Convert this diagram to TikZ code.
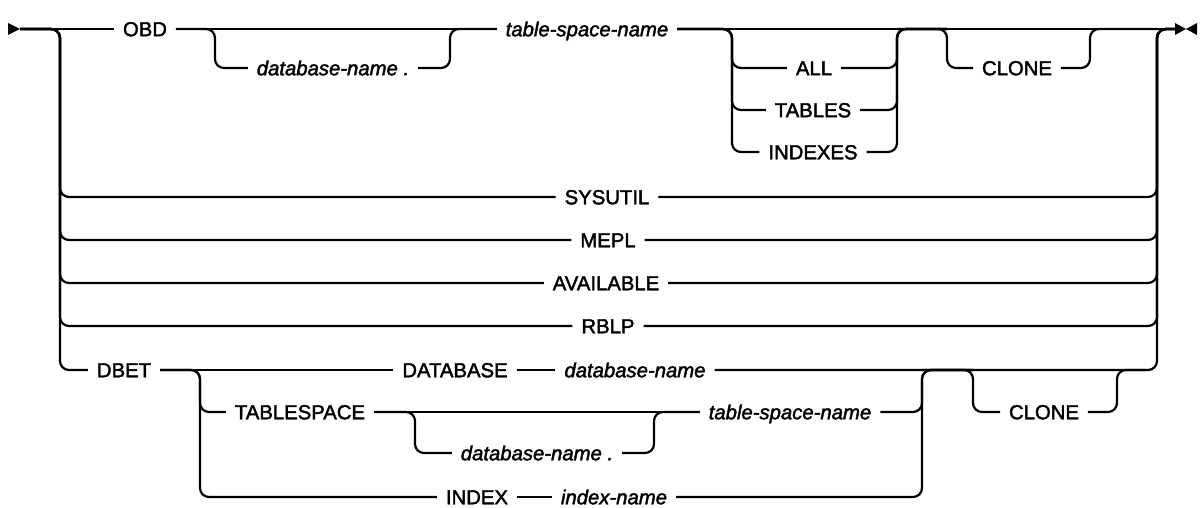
\documentclass[tikz,border=0pt]{standalone}
\usepackage{fontspec}
\setmainfont{Liberation Sans}[FakeBold=2]
\begin{document}
\begin{tikzpicture}[x=1pt,y=-1pt,line width=2.2pt,
  rc/.style={rounded corners=9pt},
  kw/.style={font=\fontsize{20.3}{24}\selectfont, inner xsep=9pt, inner ysep=0pt, outer sep=0pt, text height=14.5pt, text depth=0pt},
  var/.style={kw, font=\fontsize{20.3}{24}\selectfont\itshape}]
\useasboundingbox (0,0) rectangle (1201,508);

% text nodes
\node[kw] (obd) at (145,29) {OBD};
\node[var] (dbn1) at (333,68) {database-name .};
\node[var] (tsn1) at (587,29) {table-space-name};
\node[kw] (all) at (814,68) {ALL};
\node[kw] (tables) at (813,110) {TABLES};
\node[kw] (indexes) at (813,152) {INDEXES};
\node[kw] (clone1) at (1017,68) {CLONE};
\node[kw] (sysutil) at (607,197) {SYSUTIL};
\node[kw] (mepl) at (608,240) {MEPL};
\node[kw] (avail) at (606,283) {AVAILABLE};
\node[kw] (rblp) at (608,326) {RBLP};
\node[kw] (dbet) at (124,370) {DBET};
\node[kw] (database) at (455,370) {DATABASE};
\node[var] (dbn3) at (635,370) {database-name};
\node[kw] (tablespace) at (300,412) {TABLESPACE};
\node[var] (dbn2) at (537,453) {database-name .};
\node[var] (tsn2) at (790,412) {table-space-name};
\node[kw] (index) at (477,497) {INDEX};
\node[var] (idxn) at (614,497) {index-name};
\node[kw] (clone2) at (1044,412) {CLONE};

% junction coordinates
\coordinate (start) at (20,29);
\coordinate (endc) at (1175,29);
\coordinate (L0) at (60,29);
\coordinate (A0) at (215,29);
\coordinate (A1) at (450,29);
\coordinate (B0) at (732,29);
\coordinate (B1) at (897,29);
\coordinate (C0) at (947,29);
\coordinate (C1) at (1090,29);
\coordinate (R0) at (1157,29);
\coordinate (D0) at (200,370);
\coordinate (E0) at (415,412);
\coordinate (E1) at (654,412);
\coordinate (F0) at (922,370);
\coordinate (G0) at (973,370);
\coordinate (G1) at (1117,370);
\coordinate (R8) at (1145,370);

% start and end marks
\fill (8,23) -- (start) -- (8,35) -- cycle;
\fill (1175,23) -- (1186,29) -- (1175,35) -- cycle;
\fill (1197,23) -- (1186,29) -- (1197,35) -- cycle;

% main line
\draw (start) -- (obd);
\draw (obd) -- (tsn1);
\draw (tsn1) -- (endc);

% optional database-name .
\draw[rc] (obd.east) -- (A0) |- (dbn1.west);
\draw[rc] (dbn1.east) -| (A1) -- (tsn1.west);

% ALL / TABLES / INDEXES
\draw[rc] (tsn1.east) -- (B0) |- (all.west);
\draw[rc] (tsn1.east) -- (B0) |- (tables.west);
\draw[rc] (tsn1.east) -- (B0) |- (indexes.west);
\draw[rc] (all.east) -| (B1) -- (C0);
\draw[rc] (tables.east) -| (B1) -- (C0);
\draw[rc] (indexes.east) -| (B1) -- (C0);

% CLONE (top)
\draw[rc] (B1) -- (C0) |- (clone1.west);
\draw[rc] (clone1.east) -| (C1) -- (R0);

% left main branch
\draw[rc] (start) -- (L0) |- (sysutil.west);
\draw[rc] (start) -- (L0) |- (mepl.west);
\draw[rc] (start) -- (L0) |- (avail.west);
\draw[rc] (start) -- (L0) |- (rblp.west);
\draw[rc] (start) -- (L0) |- (dbet.west);

% right main merge
\draw[rc] (sysutil.east) -| (R0) -- (endc);
\draw[rc] (mepl.east) -| (R0) -- (endc);
\draw[rc] (avail.east) -| (R0) -- (endc);
\draw[rc] (rblp.east) -| (R0) -- (endc);
\draw[rc] (dbn3.east) -| (R0) -- (endc);

% DBET group
\draw (dbet) -- (database);
\draw (database) -- (dbn3);
\draw[rc] (dbet.east) -- (D0) |- (tablespace.west);
\draw[rc] (dbet.east) -- (D0) |- (index.west);
\draw (tablespace) -- (tsn2);
\draw[rc] (tablespace.east) -- (E0) |- (dbn2.west);
\draw[rc] (dbn2.east) -| (E1) -- (tsn2.west);
\draw[rc] (tsn2.east) -| (F0) -- (G0);
\draw (index) -- (idxn);
\draw[rc] (idxn.east) -| (F0) -- (G0);

% CLONE (bottom)
\draw[rc] (F0) -- (G0) |- (clone2.west);
\draw[rc] (clone2.east) -| (G1) -- (R8);
\end{tikzpicture}
\end{document}
